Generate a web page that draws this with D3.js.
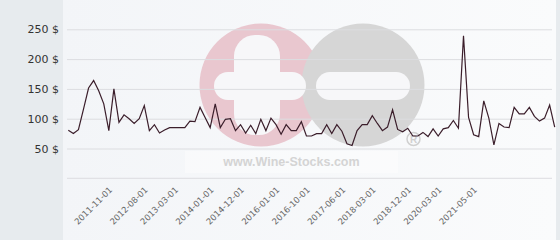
<!DOCTYPE html>
<html>
<head>
<meta charset="utf-8">
<script src="https://cdn.jsdelivr.net/npm/d3@7"></script>
<style>
  html, body { margin: 0; padding: 0; background: #e7ebee; }
  svg { display: block; }
</style>
</head>
<body>
<svg width="560" height="240"></svg>
<script>
// price per point
var prices = [80.5, 75, 81.5, 116, 151.5, 164, 147, 125, 80, 150,
	94, 106.5, 100, 92, 100, 122, 80, 90, 76, 81,
	85, 85, 85, 85, 96, 95, 119, 102, 85, 125,
	85, 99, 100, 80, 90, 76, 89, 75, 99, 80,
	101, 90, 74, 90, 80, 80, 95, 71, 71, 75,
	75, 90, 75, 90, 79, 58, 55, 80, 90, 90,
	105, 92, 80, 86, 115, 82, 78, 84, 71, 71,
	77, 70, 83, 71, 83, 85, 97, 84, 239, 102,
	73, 70, 130, 101, 56, 92, 86, 85, 119, 108,
	108, 119, 104, 96, 101, 123, 86];
var tickLabels = ['2011-11-01', '2012-08-01', '2013-03-01', '2014-01-01', '2014-12-01', '2016-01-01',
	'2016-10-01', '2017-06-01', '2018-03-01', '2018-12-01', '2020-03-01', '2021-05-01'];
var tickIdx = [9, 16, 22, 29, 35, 42, 48, 55, 61, 68, 74, 81];
var yTicks = [50, 100, 150, 200, 250];

var svg = d3.select('svg');
var left = 63, right = 556, bottom = 178.3;

var defs = svg.append('defs');
var grad = defs.append('linearGradient').attr('id', 'bg').attr('x1', 0).attr('y1', 0).attr('x2', 1).attr('y2', 0);
grad.append('stop').attr('offset', '0%').attr('stop-color', '#f3f5f8');
grad.append('stop').attr('offset', '100%').attr('stop-color', '#fafbfc');

// plot panel
svg.append('rect').attr('x', left).attr('y', 0).attr('width', right - left).attr('height', 240).attr('fill', 'url(#bg)');

var x = d3.scalePoint().domain(d3.range(prices.length)).range([68.3, 554.7]);
var y = d3.scaleLinear().domain([0, 250]).range([bottom, 29.3]);

// watermark
var wm = svg.append('g');
wm.append('rect').attr('x', 185).attr('y', 151).attr('width', 213).attr('height', 22).attr('fill', '#ffffff').attr('opacity', 0.4);
wm.append('circle').attr('cx', 261).attr('cy', 85).attr('r', 61.5).attr('fill', '#e9c7cf');
wm.append('circle').attr('cx', 363).attr('cy', 85).attr('r', 61.5).attr('fill', '#d6d6d6');
wm.append('rect').attr('x', 234).attr('y', 35).attr('width', 46).attr('height', 100).attr('rx', 21).attr('fill', '#f7f7f9');
wm.append('rect').attr('x', 214).attr('y', 72).attr('width', 92).attr('height', 28).attr('rx', 14).attr('fill', '#f7f7f9');
wm.append('rect').attr('x', 316).attr('y', 72).attr('width', 94).attr('height', 28).attr('rx', 14).attr('fill', '#f7f7f9');
wm.append('circle').attr('cx', 413.5).attr('cy', 139).attr('r', 6.5).attr('fill', 'none').attr('stroke', '#d0d0d0').attr('stroke-width', 1.5);
wm.append('text').attr('x', 413.5).attr('y', 143).attr('text-anchor', 'middle')
	.attr('font-family', 'Liberation Sans, Arial, sans-serif').attr('font-size', 10).attr('font-weight', 'bold')
	.attr('fill', '#d0d0d0').text('R');
wm.append('text').attr('x', 291.5).attr('y', 166).attr('text-anchor', 'middle')
	.attr('font-family', 'Liberation Sans, Arial, sans-serif').attr('font-size', 12.5).attr('font-weight', 'bold')
	.attr('fill', '#d4d4d4').text('www.Wine-Stocks.com');

// grid + y labels
var yAxis = d3.axisLeft(y).tickValues(yTicks).tickSize(-(right - left - 8)).tickFormat(function (d) { return d + ' $'; });
var gy = svg.append('g').attr('transform', 'translate(' + (left + 4) + ',0)').call(yAxis);
gy.select('.domain').remove();
gy.selectAll('.tick line').attr('stroke', '#dcdde0').attr('stroke-width', 1);
gy.selectAll('.tick text').attr('x', -8).attr('fill', '#333').attr('font-size', 11)
	.attr('font-family', 'DejaVu Sans, sans-serif');

// base line
svg.append('line').attr('x1', left + 4).attr('x2', right - 4).attr('y1', y(0)).attr('y2', y(0))
	.attr('stroke', '#dcdde0').attr('stroke-width', 1);

// x labels
svg.append('g').selectAll('text')
	.data(tickIdx)
	.enter()
	.append('text')
	.attr('transform', function (d) { return 'translate(' + (x(d) - 1) + ',' + (y(0) + 12) + ') rotate(-45)'; })
	.attr('text-anchor', 'end')
	.attr('font-family', 'DejaVu Sans, sans-serif')
	.attr('font-size', 8.5)
	.attr('fill', '#666')
	.text(function (d, i) { return tickLabels[i]; });

// price line
var line = d3.line()
	.x(function (d, i) { return x(i); })
	.y(function (d) { return y(d); });

svg.append('path')
	.datum(prices)
	.attr('d', line)
	.attr('fill', 'none')
	.attr('stroke', '#3b1e2b')
	.attr('stroke-width', 1.2);
</script>
</body>
</html>
